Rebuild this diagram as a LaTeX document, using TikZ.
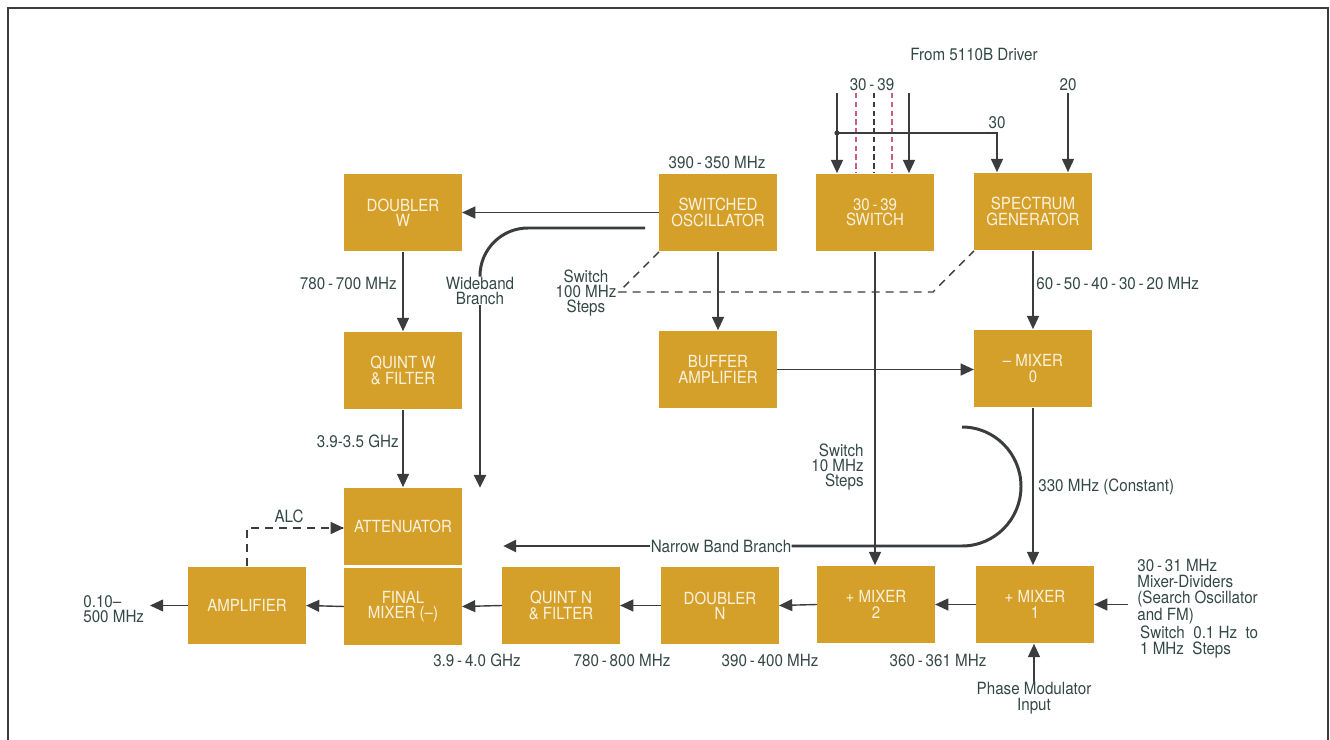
\documentclass[tikz,border=0pt]{standalone}
\usepackage{xcolor}
\usepackage{fontspec}
\setmainfont{TeX Gyre Heros}[FakeStretch=0.9]
\usepackage{tikz}
\usetikzlibrary{arrows.meta,calc}

\definecolor{boxgold}{RGB}{213,160,42}
\definecolor{boxink}{RGB}{250,242,222}
\definecolor{labelink}{RGB}{52,72,70}
\definecolor{wireink}{RGB}{58,60,62}
\definecolor{tickpink}{RGB}{200,95,125}

\tikzset{
  >={Triangle[length=7.5pt,width=6.8pt]},
  block/.style={rectangle, fill=boxgold, text=boxink, minimum width=2.35cm,
    minimum height=1.56cm, inner sep=0pt, align=center,
    font=\fontsize{9.5}{8.8}\selectfont},
  lbl/.style={text=labelink, inner sep=0pt, font=\fontsize{9.6}{8.8}\selectfont},
  sig/.style={draw=wireink, line width=0.8pt, ->},
  branch/.style={draw=wireink, line width=1.7pt},
  ctl/.style={draw=wireink, line width=0.8pt, dash pattern=on 4.5pt off 3.5pt},
  tick/.style={line width=0.7pt, dash pattern=on 3pt off 2pt},
}

\begin{document}
\begin{tikzpicture}[x=0.02cm, y=-0.02cm]
  \useasboundingbox (0,0) rectangle (1330,740);
  \draw[wireink, line width=1.1pt] (8,740) -- (8,8) -- (1328,8) -- (1328,740);

  \node[block] (dblw) at (403,212.5) {DOUBLER\\W};
  \node[block] (swosc) at (718,212.5) {SWITCHED\\OSCILLATOR};
  \node[block] (sw3039) at (875,212.5) {30\,-\,39\\SWITCH};
  \node[block] (specgen) at (1033,211.5) {SPECTRUM\\GENERATOR};
  \node[block] (quintw) at (403,370.5) {QUINT W\\\& FILTER};
  \node[block] (bufamp) at (718,369.5) {BUFFER\\AMPLIFIER};
  \node[block] (mix0) at (1033,368.5) {-- MIXER\\0};
  \node[block] (atten) at (403,526.5) {ATTENUATOR};
  \node[block] (finmix) at (403,606.5) {FINAL\\MIXER (--)};
  \node[block] (amp) at (247,605.5) {AMPLIFIER};
  \node[block] (quintn) at (561,605.5) {QUINT N\\\& FILTER};
  \node[block] (dbln) at (720,605.5) {DOUBLER\\N};
  \node[block] (mix2) at (876,604.5) {+ MIXER\\2};
  \node[block] (mix1) at (1035,604.5) {+ MIXER\\1};

  \node[lbl] (drv) at (974,54) {From 5110B Driver};
  \node[lbl] (l3039) at (872,85) {30\,-\,39};
  \node[lbl] (l20) at (1068,85) {20};
  \node[lbl] (l30) at (997,123) {30};
  \node[lbl] (l390) at (717,162) {390\,-\,350 MHz};
  \node[lbl, anchor=east] (l780w) at (397,283) {780\,-\,700 MHz};
  \node[lbl, anchor=east] (l39w) at (399,441) {3.9-3.5 GHz};
  \node[lbl, align=center] (wblbl) at (480,291) {Wideband\\Branch};
  \node[lbl, align=center] (sw100lbl) at (586,293) {Switch\\100 MHz\\Steps};
  \node[lbl, anchor=west] (l60) at (1036,283) {60\,-\,50\,-\,40\,-\,30\,-\,20 MHz};
  \node[lbl, anchor=west] (l330) at (1038,487) {330 MHz (Constant)};
  \node[lbl, anchor=east, align=right] (sw10lbl) at (864,467) {Switch\\10 MHz\\Steps};
  \node[lbl] (nblbl) at (721,546) {Narrow Band Branch};
  \node[lbl] (alclbl) at (289,516) {ALC};
  \node[lbl, anchor=west, align=left] (outlbl) at (83,609) {0.10--\\500 MHz};
  \node[lbl] (l39n) at (477,660) {3.9\,-\,4.0 GHz};
  \node[lbl] (l780n) at (622,660) {780\,-\,800 MHz};
  \node[lbl] (l390n) at (770,660) {390\,-\,400 MHz};
  \node[lbl] (l360) at (938,660) {360\,-\,361 MHz};
  \node[lbl, anchor=north west, align=left,
    font=\fontsize{9.6}{9.2}\selectfont] (fmlbl) at (1137,559)
    {30\,-\,31 MHz\\Mixer-Dividers\\(Search Oscillator\\and FM)\\
     \,Switch\ \ 0.1 Hz\ \ to\\\,1 MHz\ \ Steps};
  \node[lbl, align=center] (pmlbl) at (1034,698) {Phase Modulator\\Input};

  \coordinate (in30a) at (837,93);
  \coordinate (in39a) at (909,93);
  \coordinate (tk1) at (856,93);
  \coordinate (tk2) at (874,93);
  \coordinate (tk3) at (892,93);
  \coordinate (tap30) at (837,133);
  \coordinate (in30) at (997,133);
  \coordinate (in20) at (1068,93);
  \coordinate (wbstart) at (645,228);
  \coordinate (wbend) at (480,488);
  \coordinate (nbstart) at (962,427);
  \coordinate (nbend) at (503,546);
  \coordinate (alcturn) at (247,528);
  \coordinate (outend) at (150,605.5);
  \coordinate (fmin) at (1128,604.5);
  \coordinate (sw100tip) at (619,292);
  \coordinate (sw100bend) at (933,292);

  \draw[sig] (in30a) -- (in30a |- sw3039.north);
  \draw[sig] (in39a) -- (in39a |- sw3039.north);
  \draw[tick, tickpink] (tk1) -- (tk1 |- sw3039.north);
  \draw[tick, wireink] (tk2) -- (tk2 |- sw3039.north);
  \draw[tick, tickpink] (tk3) -- (tk3 |- sw3039.north);
  \fill[wireink] (tap30) circle (2.6);
  \draw[sig] (tap30) -- (in30) -- (in30 |- specgen.north);
  \draw[sig] (in20) -- (in20 |- specgen.north);

  \draw[sig] (swosc.west) -- (dblw.east);
  \draw[sig] (dblw.south) -- (quintw.north);
  \draw[sig] (quintw.south) -- (atten.north);
  \draw[sig] (swosc.south) -- (bufamp.north);
  \draw[sig] (bufamp.east) -- (bufamp.east -| mix0.west);
  \draw[sig] (specgen.south) -- (mix0.north);
  \draw[sig] (mix0.south) -- (mix0.south |- mix1.north);
  \draw[sig] (sw3039.south) -- (sw3039.south |- mix2.north);
  \draw[sig] (mix1.west) -- (mix2.east);
  \draw[sig] (mix2.west) -- (dbln.east);
  \draw[sig] (dbln.west) -- (quintn.east);
  \draw[sig] (quintn.west) -- (finmix.east);
  \draw[sig] (finmix.west) -- (amp.east);
  \draw[sig] (amp.west) -- (outend);
  \draw[sig] (fmin) -- (mix1.east);
  \draw[sig] (pmlbl.north) -- (pmlbl.north |- mix1.south);

  \draw[ctl] (amp.north -| alcturn) -- (alcturn) -- (alcturn -| atten.west);
  \draw[wireink, line width=0.8pt, ->] ($(alcturn -| atten.west)+(-6,0)$) -- (alcturn -| atten.west);
  \draw[ctl] (swosc.south west) -- (sw100tip) -- (sw100bend) -- (specgen.south west);

  \draw[branch, rounded corners=0.96cm] (wbstart) -- (480,228) -- (wblbl.north);
  \draw[branch, ->] (wblbl.south) -- (wbend);
  \draw[branch] (nbstart) .. controls (995,427) and (1021,454) .. (1021,486.5)
    .. controls (1021,519) and (995,546) .. (962,546) -- (nblbl.east);
  \draw[branch, ->] (nblbl.west) -- (nbend);
\end{tikzpicture}
\end{document}
